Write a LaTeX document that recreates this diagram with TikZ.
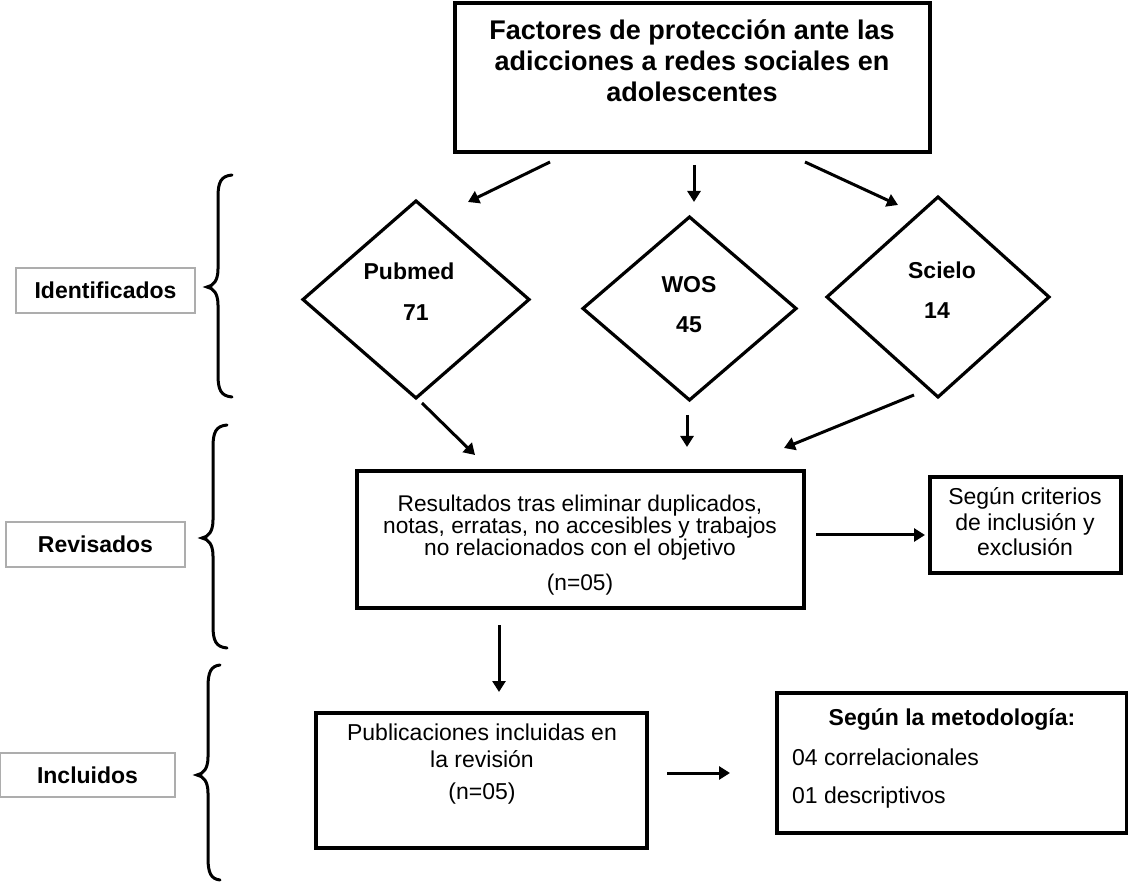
\documentclass[tikz,border=0pt]{standalone}
\usepackage{fontspec}
\setmainfont{Liberation Sans}
\usetikzlibrary{shapes.geometric,arrows.meta}

% brace: #1 x of ends, #2 x of spine, #3 x of tip, #4 top y, #5 tip y, #6 bottom y
\newcommand{\drawbrace}[6]{%
  \draw[bracestyle] (#1,#4) .. controls (#2+3,#4+1) and (#2,#4+7) .. (#2,#4+22)
    -- (#2,#5-18) .. controls (#2,#5-6) and (#2-5,#5-1) .. (#3,#5)
    .. controls (#2-5,#5+1) and (#2,#5+6) .. (#2,#5+18)
    -- (#2,#6-22) .. controls (#2,#6-7) and (#2+3,#6-1) .. (#1,#6);}

\tikzset{
  box/.style={draw, line width=4pt, inner sep=0pt, outer sep=0pt},
  labelbox/.style={draw=black!32, line width=1.2pt, inner sep=0pt, outer sep=0pt,
    font=\fontsize{23}{25}\selectfont\bfseries, text height=16.5pt, text depth=0pt},
  dia/.style={diamond, draw, line width=3.2pt, inner sep=0pt, outer sep=0pt},
  arr/.style={line width=3pt, -{Triangle[length=11pt,width=13pt]}},
  ctext/.style={inner sep=0pt, text height=16.5pt, text depth=0pt},
  bfont/.style={font=\fontsize{23}{25}\selectfont\bfseries},
  rfont/.style={font=\fontsize{23}{25}\selectfont},
  bracestyle/.style={line width=3pt, line cap=round}
}

\begin{document}
\begin{tikzpicture}[x=1pt,y=-1pt]
\fill[white] (0,0) rectangle (1128,882);
\useasboundingbox (0,0) rectangle (1128,882);

% ---------- title ----------
\node[box, line width=4.5pt, minimum width=475pt, minimum height=149pt] (title) at (692.5,77.5) {};
\node[inner sep=0pt, align=center, font=\fontsize{27}{31}\selectfont\bfseries] (titletext) at (692,61)
  {Factores de protección ante las\\adicciones a redes sociales en\\adolescentes};

% ---------- diamonds ----------
\node[dia, minimum width=226pt, minimum height=197pt] (pubmed) at (416,299.5) {};
\node[ctext, bfont] (pubmedname) at (409,271) {Pubmed};
\node[ctext, bfont] (pubmedn) at (416,312) {71};

\node[dia, minimum width=213pt, minimum height=183pt] (wos) at (689.5,308.5) {};
\node[ctext, bfont] (wosname) at (689,284) {WOS};
\node[ctext, bfont] (wosn) at (689,324) {45};

\node[dia, minimum width=222pt, minimum height=200pt] (scielo) at (938,297) {};
\node[ctext, bfont] (scieloname) at (942,270) {Scielo};
\node[ctext, bfont] (scielon) at (937,310) {14};

% ---------- results ----------
\node[box, minimum width=447pt, minimum height=137pt] (res) at (580.5,539.5) {};
\node[inner sep=0pt, align=center, font=\fontsize{22.7}{22}\selectfont] (restext) at (580,545.5)
  {Resultados tras eliminar duplicados,\\notas, erratas, no accesibles y trabajos\\no relacionados con el objetivo\\[13pt](n=05)};

\node[box, minimum width=191pt, minimum height=96pt] (crit) at (1025.5,525) {};
\node[inner sep=0pt, align=center, font=\fontsize{23}{25.5}\selectfont] (crittext) at (1025,522)
  {Según criterios\\de inclusión y\\exclusión};

% ---------- included ----------
\node[box, minimum width=331pt, minimum height=135pt] (pub) at (481.5,780.5) {};
\node[inner sep=0pt, align=center, font=\fontsize{23}{27}\selectfont] (pubtext) at (482,764.5)
  {Publicaciones incluidas en\\la revisión\\[5pt](n=05)};

\node[box, line width=4.5pt, minimum width=350pt, minimum height=140pt] (met) at (952,763) {};
\node[ctext, bfont] (mettitle) at (952,717) {Según la metodología:};
\node[ctext, rfont, anchor=west] (met1) at (792,757) {04 correlacionales};
\node[ctext, rfont, anchor=west] (met2) at (792,795) {01 descriptivos};

% ---------- left labels ----------
\node[labelbox, minimum width=179pt, minimum height=45pt] (ident) at (105.5,290.5) {Identificados};
\node[labelbox, minimum width=179pt, minimum height=45pt] (revis) at (95.5,544.5) {Revisados};
\node[labelbox, minimum width=175pt, minimum height=44pt] (incl) at (87.5,775) {Incluidos};

% ---------- braces ----------
\drawbrace{232}{218}{207}{175}{287}{397}
\drawbrace{227}{213}{202}{425}{538}{648}
\drawbrace{220}{208}{197}{665}{775}{880}

% ---------- connector end points ----------
\coordinate (a1s) at (550,162);  \coordinate (a1e) at (468,202);
\coordinate (a2s) at (694,165);  \coordinate (a2e) at (694,202);
\coordinate (a3s) at (805,162);  \coordinate (a3e) at (898,205);
\coordinate (a4s) at (422,403);  \coordinate (a4e) at (475,455);
\coordinate (a5s) at (687,415);  \coordinate (a5e) at (687,447);
\coordinate (a6s) at (914,395);  \coordinate (a6e) at (784,448);
\coordinate (a7s) at (816,535);  \coordinate (a7e) at (925,535);
\coordinate (a8s) at (499,625);  \coordinate (a8e) at (499,692);
\coordinate (a9s) at (667,773);  \coordinate (a9e) at (730,773);

\draw[arr] (a1s) -- (a1e);
\draw[arr] (a2s) -- (a2e);
\draw[arr] (a3s) -- (a3e);
\draw[arr] (a4s) -- (a4e);
\draw[arr] (a5s) -- (a5e);
\draw[arr] (a6s) -- (a6e);
\draw[arr] (a7s) -- (a7e);
\draw[arr] (a8s) -- (a8e);
\draw[arr] (a9s) -- (a9e);
\end{tikzpicture}
\end{document}
